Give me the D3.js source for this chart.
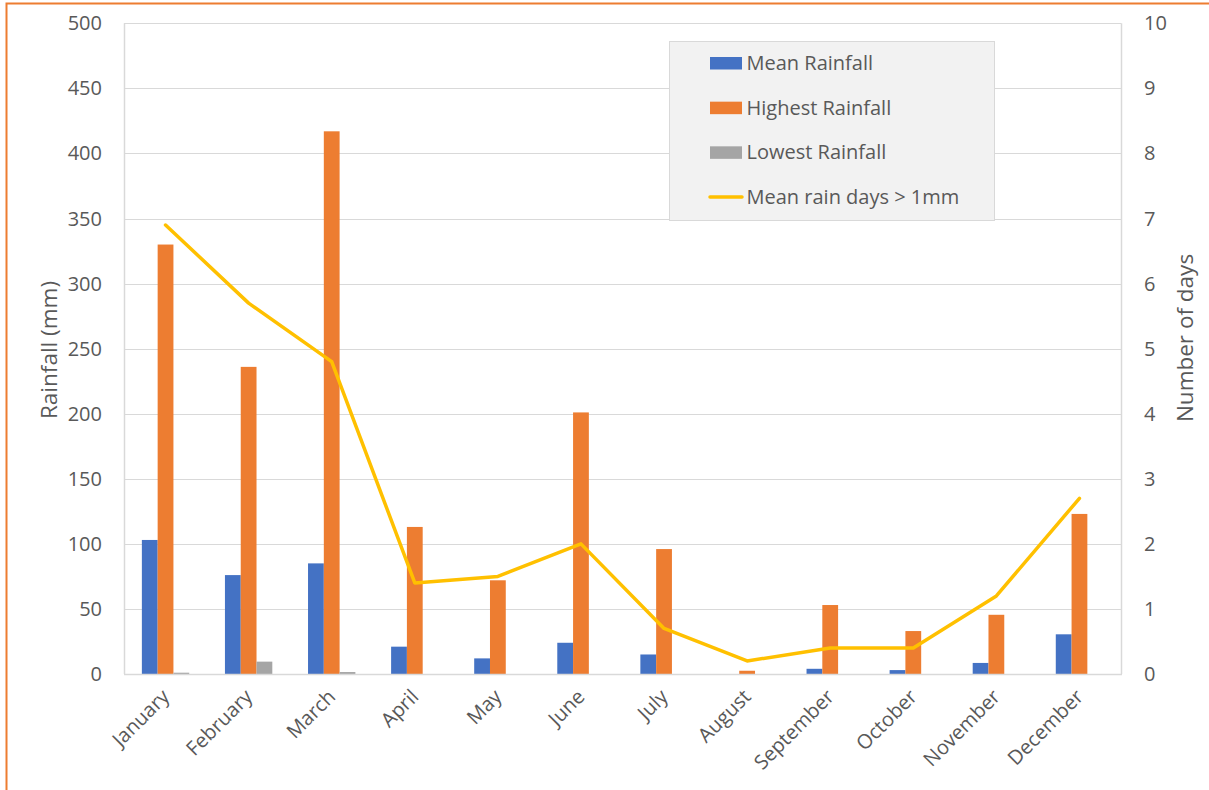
<!DOCTYPE html>
<html>
<head>
<meta charset="utf-8">
<script src="https://cdn.jsdelivr.net/npm/d3@7/dist/d3.min.js"></script>
<style>
  html, body { margin: 0; padding: 0; background: #fff; }
  svg { display: block; }
  text { font-family: "Open Sans", "Noto Sans", sans-serif; fill: #595959; }
</style>
</head>
<body>
<svg id="chart" width="1209" height="790"></svg>
<script>
// Monthly rainfall (mm) and mean rain days
const months = ["January", "February", "March", "April", "May", "June",
                "July", "August", "September", "October", "November", "December"];
const meanRainfall    = [103, 76, 85, 21, 12, 24, 15, 0, 4, 3, 8.5, 30.5];
const highestRainfall = [330, 236, 417, 113, 72, 201, 96, 2.5, 53, 33, 45.5, 123];
const lowestRainfall  = [1, 9.5, 1.5, 0, 0, 0, 0, 0, 0, 0, 0, 0];
const rainDays        = [6.9, 5.7, 4.8, 1.4, 1.5, 2.0, 0.7, 0.2, 0.4, 0.4, 1.2, 2.7];

const leftTicks  = [0, 50, 100, 150, 200, 250, 300, 350, 400, 450, 500];
const rightTicks = [0, 1, 2, 3, 4, 5, 6, 7, 8, 9, 10];

const seriesNames  = ["Mean Rainfall", "Highest Rainfall", "Lowest Rainfall"];
const seriesColors = ["#4472C4", "#ED7D31", "#A5A5A5"];
const lineName  = "Mean rain days > 1mm";
const lineColor = "#FFC000";

const svg = d3.select("#chart");
const plot = { left: 124, right: 1121, top: 23.3, bottom: 674 };

// Outer chart frame
svg.append("rect")
  .attr("x", 6.5).attr("y", 3.5)
  .attr("width", 1240).attr("height", 820)
  .attr("fill", "none").attr("stroke", "#ED7D31").attr("stroke-width", 2);

const x = d3.scaleBand().domain(months).range([plot.left, plot.right]).padding(0);
const yL = d3.scaleLinear().domain([0, 500]).range([plot.bottom, plot.top]);
const yR = d3.scaleLinear().domain([0, 10]).range([plot.bottom, plot.top]);

const groupW = x.bandwidth() * 0.57;
const x1 = d3.scaleBand().domain(seriesNames).range([0, groupW]).padding(0);

// Gridlines
svg.append("g").selectAll("line").data(leftTicks.filter(d => d > 0)).join("line")
  .attr("x1", plot.left).attr("x2", plot.right)
  .attr("y1", d => Math.round(yL(d)) + 0.5).attr("y2", d => Math.round(yL(d)) + 0.5)
  .attr("stroke", "#D9D9D9").attr("stroke-width", 1);

// Axis lines (left, right, bottom)
const axisColor = "#D9D9D9";
svg.append("line").attr("x1", plot.left + 0.5).attr("x2", plot.left + 0.5)
  .attr("y1", plot.top).attr("y2", plot.bottom).attr("stroke", axisColor).attr("stroke-width", 1.5);
svg.append("line").attr("x1", plot.right + 0.5).attr("x2", plot.right + 0.5)
  .attr("y1", plot.top).attr("y2", plot.bottom).attr("stroke", axisColor).attr("stroke-width", 1.5);

// Bars
const seriesData = [meanRainfall, highestRainfall, lowestRainfall];
seriesData.forEach((vals, si) => {
  svg.append("g").selectAll("rect").data(months).join("rect")
    .attr("x", m => x(m) + (x.bandwidth() - groupW) / 2 + x1(seriesNames[si]))
    .attr("width", x1.bandwidth())
    .attr("y", (m, i) => yL(vals[i]))
    .attr("height", (m, i) => yL(0) - yL(vals[i]))
    .attr("fill", seriesColors[si]);
});

svg.append("line").attr("x1", plot.left).attr("x2", plot.right + 1)
  .attr("y1", plot.bottom + 0.5).attr("y2", plot.bottom + 0.5)
  .attr("stroke", axisColor).attr("stroke-width", 1.5);

// Rain-days line on secondary axis
const line = d3.line()
  .x((d, i) => x(months[i]) + x.bandwidth() / 2)
  .y(d => yR(d));
svg.append("path").datum(rainDays)
  .attr("d", line)
  .attr("fill", "none").attr("stroke", lineColor)
  .attr("stroke-width", 3.5).attr("stroke-linejoin", "round").attr("stroke-linecap", "round");

// Left axis labels
svg.append("g").selectAll("text").data(leftTicks).join("text")
  .attr("x", 102).attr("y", d => yL(d))
  .attr("dy", "0.35em").attr("text-anchor", "end")
  .style("font-size", "20px").text(d => d);

// Right axis labels
svg.append("g").selectAll("text").data(rightTicks).join("text")
  .attr("x", 1144).attr("y", d => yR(d))
  .attr("dy", "0.35em").attr("text-anchor", "start")
  .style("font-size", "20px").text(d => d);

// Month labels
svg.append("g").selectAll("text").data(months).join("text")
  .attr("text-anchor", "end")
  .attr("transform", m => `translate(${x(m) + x.bandwidth() / 2 + 5},${plot.bottom + 24}) rotate(-45)`)
  .style("font-size", "20px").text(m => m);

// Axis titles
svg.append("text")
  .attr("transform", `translate(57,350) rotate(-90)`)
  .attr("text-anchor", "middle")
  .style("font-size", "22.5px").text("Rainfall (mm)");
svg.append("text")
  .attr("transform", `translate(1193,338) rotate(-90)`)
  .attr("text-anchor", "middle")
  .style("font-size", "22.5px").text("Number of days");

// Legend
const legend = svg.append("g");
legend.append("rect")
  .attr("x", 669.5).attr("y", 41.5).attr("width", 325).attr("height", 179)
  .attr("fill", "#F2F2F2").attr("stroke", "#D9D9D9").attr("stroke-width", 1);
const legendItems = seriesNames.map((n, i) => ({ name: n, color: seriesColors[i], type: "bar" }))
  .concat([{ name: lineName, color: lineColor, type: "line" }]);
const rowY = d3.scalePoint().domain(legendItems.map(d => d.name)).range([70, 204]);
legendItems.forEach(item => {
  const by = rowY(item.name);
  if (item.type === "bar") {
    legend.append("rect").attr("x", 710).attr("y", by - 13).attr("width", 32).attr("height", 12.5)
      .attr("fill", item.color);
  } else {
    legend.append("line").attr("x1", 710).attr("x2", 742).attr("y1", by - 7).attr("y2", by - 7)
      .attr("stroke", item.color).attr("stroke-width", 3.5).attr("stroke-linecap", "round");
  }
  legend.append("text").attr("x", 746.5).attr("y", by)
    .style("font-size", "20px").text(item.name);
});
</script>
</body>
</html>
